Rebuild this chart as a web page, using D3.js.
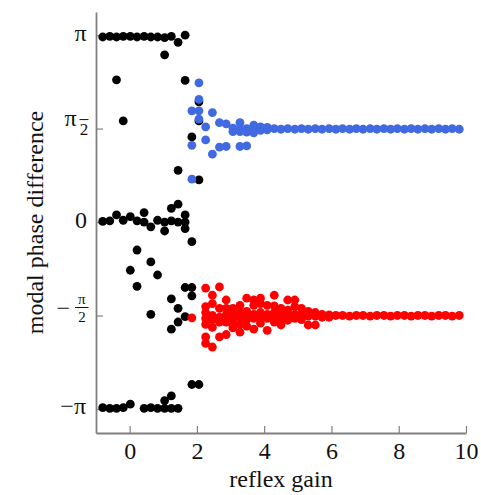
<!DOCTYPE html>
<html><head><meta charset="utf-8">
<script src="https://cdn.jsdelivr.net/npm/d3@7"></script>
<style>html,body{margin:0;padding:0;background:#fff;} svg{display:block;}</style>
</head><body><svg id="chart" width="481" height="495"></svg>
<script>
// ---- data ----
const xTickValues = [0, 2, 4, 6, 8, 10];
const yTickValues = [-Math.PI, -Math.PI / 2, 0, Math.PI / 2, Math.PI];
const xLabel = "reflex gain";
const yLabel = "modal phase difference";

const blackGain = [
  -0.80,-0.59,-0.39,-0.19,0.02,0.22,0.43,0.63,0.83,1.04,1.24,1.44,1.65,
  1.04,-0.39,1.65,-0.19,2.06,2.06,1.85,1.44,2.06,
  -0.80,-0.59,-0.39,-0.19,0.02,0.22,0.43,0.43,0.63,0.83,1.04,1.04,1.24,1.24,1.44,1.44,1.65,1.65,1.65,1.85,
  0.22,0.02,0.63,0.83,0.22,1.65,1.85,1.85,1.24,1.44,0.63,1.65,1.44,1.24,
  -0.80,-0.59,-0.39,-0.19,0.02,0.43,0.63,0.83,1.04,1.04,1.24,1.24,1.44,1.85,2.06
];
const blackPhase = [
  3.11,3.12,3.11,3.12,3.12,3.11,3.12,3.11,3.11,3.10,3.12,3.02,3.14,
  2.81,2.39,2.38,1.70,2.02,1.70,1.43,0.87,0.71,
  0.01,0.02,0.12,0.03,0.09,0.02,0.16,0.00,-0.08,0.03,-0.15,0.00,0.23,0.02,0.30,0.00,0.12,-0.11,0.00,-0.33,
  -0.47,-0.81,-0.67,-0.89,-1.08,-1.10,-1.10,-1.24,-1.29,-1.45,-1.55,-1.59,-1.68,-1.80,
  -3.12,-3.13,-3.13,-3.12,-3.06,-3.13,-3.12,-3.13,-3.00,-3.13,-2.92,-3.13,-3.13,-2.73,-2.73
];

const blueGain = [
  1.85,1.85,1.85, 2.06,2.06,2.06,2.06, 2.26,2.26, 2.46,2.46, 2.67,2.67, 2.87,2.87,
  3.07,3.07, 3.28,3.28,3.28,3.28, 3.48,3.48,3.48, 3.69,3.69,3.69, 3.89,3.89, 4.09,4.09, 4.30,
  4.50,4.70,4.91,5.11,5.31,5.52,5.72,5.93,6.13,6.33,6.54,6.74,6.94,7.15,7.35,7.56,7.76,7.96,
  8.17,8.37,8.57,8.78,8.98,9.19,9.39,9.59,9.80
];
const bluePhase = [
  1.87,1.29,0.72, 2.34,2.06,1.87,1.73, 1.60,1.38, 1.84,1.14, 1.67,1.26, 1.65,1.27,
  1.52,1.58, 1.67,1.27,1.52,1.58, 1.28,1.57,1.51, 1.63,1.50,1.57, 1.60,1.54, 1.59,1.55, 1.57,
  1.56,1.57,1.56,1.57,1.56,1.57,1.56,1.57,1.56,1.57,1.56,1.57,1.56,1.57,1.56,1.57,1.56,1.57,
  1.56,1.57,1.56,1.57,1.56,1.57,1.56,1.57,1.56
];

const redGain = [
  1.85,
  2.26,2.26,2.26,2.26,2.26,2.26,2.26,
  2.46,2.46,2.46,2.46,2.46,2.46,
  2.67,2.67,2.67,2.67,2.67,
  2.87,2.87,2.87,2.87,2.87,
  3.07,3.07,3.07,3.07,3.07,
  3.28,3.28,3.28,3.28,3.28,
  3.48,3.48,3.48,3.48,3.48,
  3.69,3.69,3.69,3.69,3.69,
  3.89,3.89,3.89,3.89,3.89,
  4.09,4.09,4.09,4.09,
  4.30,4.30,4.30,4.30,4.30,
  4.50,4.50,4.50,4.50,
  4.70,4.70,4.70,4.70,
  4.91,4.91,4.91,4.91,
  5.11,5.11,5.11,
  5.31,5.31,5.31,
  5.52,5.52,5.52,
  5.72,5.72,
  5.93,5.93,
  6.13,6.33,6.54,6.74,6.94,7.15,7.35,7.56,7.76,7.96,8.17,8.37,8.57,8.78,8.98,9.19,9.39,9.59,9.80
];
const redPhase = [
  -1.61,
  -1.11,-1.42,-1.52,-1.62,-1.72,-1.93,-2.04,
  -1.23,-1.37,-1.57,-1.64,-1.77,-2.10,
  -1.09,-1.45,-1.60,-1.68,-1.93,
  -1.31,-1.45,-1.56,-1.68,-1.89,
  -1.45,-1.55,-1.63,-1.72,-1.78,
  -1.40,-1.52,-1.60,-1.72,-1.85,
  -1.28,-1.50,-1.58,-1.64,-1.75,
  -1.31,-1.40,-1.55,-1.62,-1.80,
  -1.28,-1.37,-1.52,-1.60,-1.70,
  -1.40,-1.55,-1.62,-1.82,
  -1.23,-1.41,-1.52,-1.60,-1.68,
  -1.45,-1.56,-1.62,-1.73,
  -1.31,-1.48,-1.58,-1.65,
  -1.31,-1.42,-1.55,-1.62,
  -1.45,-1.56,-1.64,
  -1.50,-1.58,-1.73,
  -1.52,-1.58,-1.73,
  -1.55,-1.60,
  -1.56,-1.60,
  -1.57,-1.57,-1.58,-1.57,-1.57,-1.58,-1.57,-1.57,-1.58,-1.57,-1.57,-1.58,-1.57,-1.57,-1.58,-1.57,-1.57,-1.58,-1.57
];

// ---- chart ----
const svg = d3.select("#chart");
const pLeft = 96, pRight = 466, pTop = 12, pBottom = 433;
const x = d3.scaleLinear().domain([-1, 10]).range([pLeft, pRight]);
const y = d3.scaleLinear().domain([-3.545, 3.53]).range([pBottom, pTop]);
const axisColor = "#808080";
const font = "'Liberation Serif', 'Times New Roman', serif";

svg.append("defs").append("clipPath").attr("id", "plotclip")
  .append("rect").attr("x", pLeft).attr("y", pTop).attr("width", pRight - pLeft).attr("height", pBottom - pTop);

// axes
const xAxis = svg.append("g").attr("transform", `translate(0,${pBottom})`)
  .call(d3.axisBottom(x).tickValues(xTickValues).tickSizeInner(-7).tickSizeOuter(0).tickFormat(d3.format("d")));
xAxis.select(".domain").attr("stroke", axisColor).attr("stroke-width", 1.8);
xAxis.selectAll(".tick line").attr("stroke", axisColor).attr("stroke-width", 1.2);
xAxis.selectAll(".tick text").attr("y", 26).attr("dy", 0)
  .attr("font-family", font).attr("font-size", 24).attr("fill", "#111");

const yAxis = svg.append("g").attr("transform", `translate(${pLeft},0)`)
  .call(d3.axisLeft(y).tickValues(yTickValues).tickSizeInner(-7).tickSizeOuter(0).tickFormat(""));
yAxis.select(".domain").attr("stroke", axisColor).attr("stroke-width", 1.8);
yAxis.selectAll(".tick line").attr("stroke", axisColor).attr("stroke-width", 1.2);

// y tick labels (custom math-like rendering)
const lab = svg.append("g").attr("font-family", font).attr("fill", "#111");
function txt(t, xx, yy, size, anchor) {
  lab.append("text").attr("x", xx).attr("y", yy).attr("font-size", size)
    .attr("text-anchor", anchor).text(t);
}
function bar(x1, x2, yy) {
  lab.append("line").attr("x1", x1).attr("x2", x2).attr("y1", yy).attr("y2", yy)
    .attr("stroke", "#111").attr("stroke-width", 1);
}
// π
txt("π", 86.5, y(Math.PI) + 6, 24, "end");
// π/2 (as in the reference: π followed by a bar and a 2)
txt("π", 76.5, y(Math.PI / 2) - 2.5, 24, "end");
bar(79.5, 88.5, y(Math.PI / 2) - 9);
txt("2", 84, y(Math.PI / 2) + 6.5, 17, "middle");
// 0
txt("0", 87, y(0) + 6, 24, "end");
// −π/2
txt("−", 70, y(-Math.PI / 2) + 0.5, 24, "end");
txt("π", 81.8, y(-Math.PI / 2) - 11.5, 15, "middle");
bar(75, 88.5, y(-Math.PI / 2) - 8);
txt("2", 82, y(-Math.PI / 2) + 6.5, 15, "middle");
// −π
txt("−π", 86, y(-Math.PI) + 5.5, 24, "end");

// axis titles
svg.append("text").attr("x", (pLeft + pRight) / 2).attr("y", 487)
  .attr("text-anchor", "middle").attr("font-family", font).attr("font-size", 24).attr("fill", "#111")
  .text(xLabel);
svg.append("text").attr("transform", `translate(43,${(pTop + pBottom) / 2}) rotate(-90)`)
  .attr("text-anchor", "middle").attr("font-family", font).attr("font-size", 24).attr("fill", "#111")
  .text(yLabel);

// points
const pts = svg.append("g").attr("clip-path", "url(#plotclip)");
const r = 4.4;
function drawSeries(gains, phases, color) {
  pts.append("g").selectAll("circle").data(d3.zip(gains, phases)).join("circle")
    .attr("cx", d => x(d[0])).attr("cy", d => y(d[1])).attr("r", r).attr("fill", color);
}
drawSeries(blackGain, blackPhase, "#000000");
drawSeries(blueGain, bluePhase, "#4169E1");
drawSeries(redGain, redPhase, "#FF0000");
</script>
</body></html>
